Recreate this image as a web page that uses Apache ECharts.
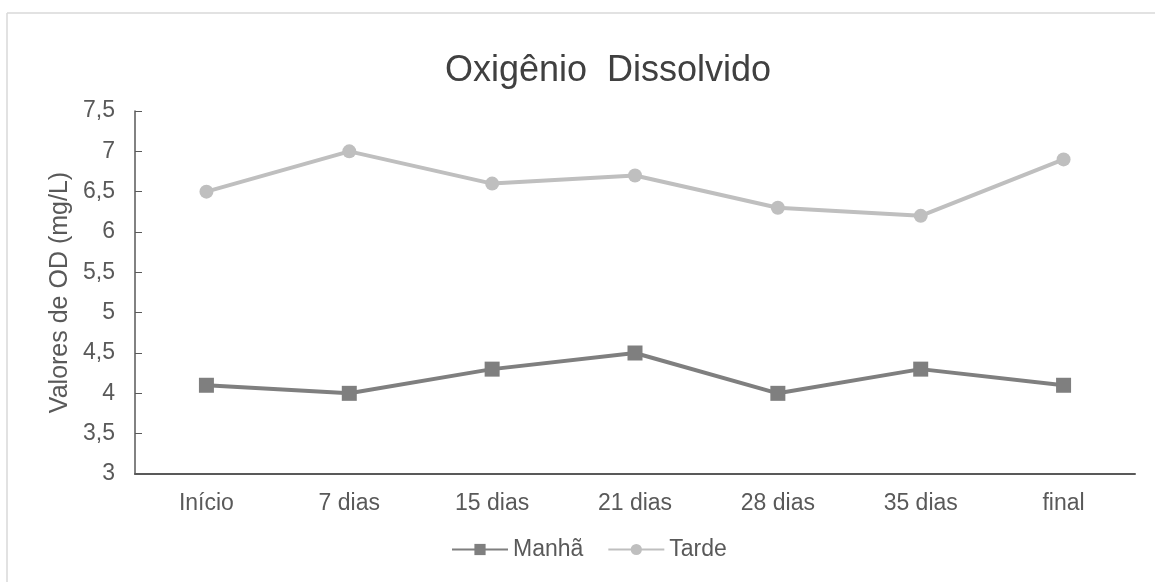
<!DOCTYPE html>
<html><head><meta charset="utf-8">
<script src="https://cdn.jsdelivr.net/npm/echarts@6/dist/echarts.min.js"></script>
<style>html,body{margin:0;padding:0;background:#fff}#c{width:1155px;height:582px}</style>
</head><body><div id="c"></div>
<script>
const categories = ['Início','7 dias','15 dias','21 dias','28 dias','35 dias','final'];
const manha = [4.1, 4.0, 4.3, 4.5, 4.0, 4.3, 4.1];
const tarde = [6.5, 7.0, 6.6, 6.7, 6.3, 6.2, 6.9];
const seriesNames = ['Manhã','Tarde'];
const chart = echarts.init(document.getElementById('c'));
const font = 'Liberation Sans, Arial, sans-serif';
chart.setOption({
  backgroundColor:'#fff',
  animation:false,
  title:{text:'Oxigênio  Dissolvido',left:440,top:48,textStyle:{fontFamily:font,fontSize:36,fontWeight:'normal',color:'#404040'}},
  graphic:[
    {type:'line',shape:{x1:7,y1:13,x2:1155,y2:13},style:{stroke:'#d9d9d9',lineWidth:1.5}},
    {type:'line',shape:{x1:7,y1:13,x2:7,y2:582},style:{stroke:'#d9d9d9',lineWidth:1.5}}
  ],
  legend:{bottom:16,left:446,itemWidth:56,itemHeight:14,itemGap:24,
    textStyle:{fontFamily:font,fontSize:23,color:'#595959'},
    data:seriesNames},
  grid:{left:135,right:20,top:111,bottom:108},
  xAxis:{type:'category',data:categories,boundaryGap:true,
    axisLine:{lineStyle:{color:'#595959',width:2}},axisTick:{show:false},
    axisLabel:{fontFamily:font,fontSize:23,color:'#595959',margin:18}},
  yAxis:{type:'value',min:3,max:7.5,interval:0.5,
    name:'Valores de OD (mg/L)',nameLocation:'middle',nameGap:61,
    nameTextStyle:{fontFamily:font,fontSize:25,color:'#595959'},
    axisLine:{show:true,lineStyle:{color:'#595959',width:1.5}},
    axisTick:{show:true,inside:true,length:7,lineStyle:{color:'#595959'}},
    splitLine:{show:false},
    axisLabel:{fontFamily:font,fontSize:23,color:'#595959',margin:20,
      formatter:v=>String(v).replace('.',',')}},
  series:[
    {name:seriesNames[0],type:'line',data:manha,symbol:'rect',symbolSize:15,
      itemStyle:{color:'#7f7f7f'},lineStyle:{color:'#7f7f7f',width:4}},
    {name:seriesNames[1],type:'line',data:tarde,symbol:'circle',symbolSize:14,
      itemStyle:{color:'#bfbfbf'},lineStyle:{color:'#bfbfbf',width:4}}
  ]
});
</script></body></html>
